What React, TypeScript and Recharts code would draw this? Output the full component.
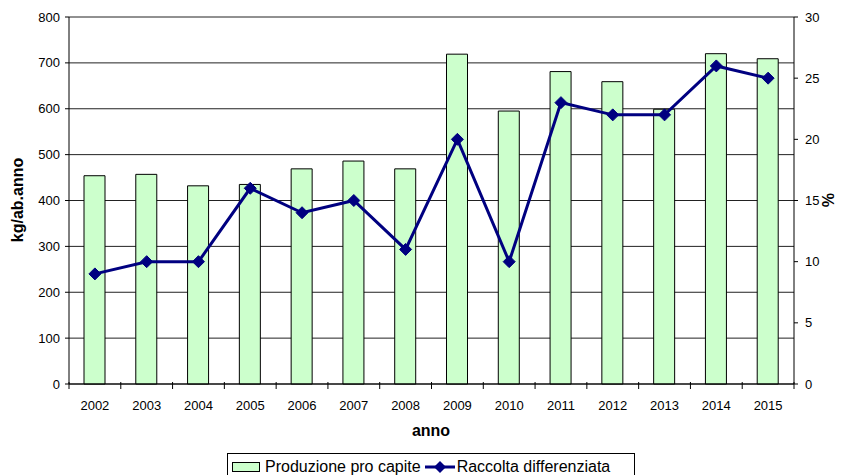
import { ComposedChart, Bar, Line, XAxis, YAxis, CartesianGrid } from 'recharts';

const years = ['2002', '2003', '2004', '2005', '2006', '2007', '2008', '2009', '2010', '2011', '2012', '2013', '2014', '2015'];
const produzione = [454, 457, 432, 435, 469, 486, 469, 719, 595, 681, 659, 599, 720, 709];
const raccolta = [9, 10, 10, 16, 14, 15, 11, 20, 10, 23, 22, 22, 26, 25];
const leftTicks = [0, 100, 200, 300, 400, 500, 600, 700, 800];
const rightTicks = [0, 5, 10, 15, 20, 25, 30];

const data = years.map((anno, i) => ({ anno, produzione: produzione[i], raccolta: raccolta[i] }));

const FONT = '"Liberation Sans", Arial, sans-serif';
const PLOT_LEFT = 69;
const PLOT_RIGHT = 794;
const BAND = (PLOT_RIGHT - PLOT_LEFT) / years.length;

const YearTick = (props: any) => {
  const { x, y, payload, index } = props;
  const half = BAND / 2;
  return (
    <g>
      <line x1={x - half} x2={x - half} y1={y - 4} y2={y + 3} stroke="#000" />
      {index === years.length - 1 && (
        <line x1={x + half} x2={x + half} y1={y - 4} y2={y + 3} stroke="#000" />
      )}
      <text x={x} y={y + 24} textAnchor="middle" fontSize={13} fill="#000" fontFamily={FONT}>
        {payload.value}
      </text>
    </g>
  );
};

const Diamond = (props: any) => {
  const { cx, cy } = props;
  if (cx == null || cy == null) return null;
  const r = 6;
  return (
    <polygon
      points={`${cx},${cy - r} ${cx + r},${cy} ${cx},${cy + r} ${cx - r},${cy}`}
      fill="#000080"
      stroke="#000080"
    />
  );
};

export default function App() {
  return (
    <div style={{ position: 'absolute', left: 0, top: 0, width: 843, height: 475, fontFamily: FONT, background: '#fff', overflow: 'hidden' }}>
      <ComposedChart width={843} height={475} data={data} margin={{ top: 17, right: 0, bottom: 0, left: 0 }}>
        <CartesianGrid yAxisId="left" vertical={false} stroke="#222" />
        <XAxis
          dataKey="anno"
          height={91}
          tickLine={false}
          tickSize={0}
          tick={<YearTick />}
          axisLine={{ stroke: '#000' }}
          interval={0}
        />
        <YAxis
          yAxisId="left"
          width={69}
          domain={[0, 800]}
          ticks={leftTicks}
          tickSize={4}
          tickMargin={5}
          tick={{ fontSize: 13, fill: '#000', fontFamily: FONT }}
          axisLine={{ stroke: '#000' }}
          tickLine={{ stroke: '#000' }}
        />
        <YAxis
          yAxisId="right"
          orientation="right"
          width={49}
          domain={[0, 30]}
          ticks={rightTicks}
          tickSize={4}
          tickMargin={7}
          tick={{ fontSize: 13, fill: '#000', fontFamily: FONT, textAnchor: 'start' }}
          axisLine={{ stroke: '#000' }}
          tickLine={{ stroke: '#000' }}
        />
        <Bar
          yAxisId="left"
          dataKey="produzione"
          name="Produzione pro capite"
          fill="#ccffcc"
          stroke="#000"
          strokeWidth={1}
          barSize={21}
          isAnimationActive={false}
        />
        <Line
          yAxisId="right"
          dataKey="raccolta"
          name="Raccolta differenziata"
          stroke="#000080"
          strokeWidth={3}
          dot={<Diamond />}
          activeDot={false}
          isAnimationActive={false}
        />
      </ComposedChart>

      <div style={{ position: 'absolute', left: 18, top: 200, transform: 'translate(-50%, -50%) rotate(-90deg)', whiteSpace: 'nowrap', fontWeight: 'bold', fontSize: 16, lineHeight: '18px' }}>
        kg/ab.anno
      </div>
      <div style={{ position: 'absolute', left: 827, top: 200, transform: 'translate(-50%, -50%) rotate(90deg)', whiteSpace: 'nowrap', fontWeight: 'bold', fontSize: 16, lineHeight: '18px' }}>
        %
      </div>
      <div style={{ position: 'absolute', left: 431, top: 431, transform: 'translate(-50%, -50%)', fontWeight: 'bold', fontSize: 16, lineHeight: '18px' }}>
        anno
      </div>

      <div
        style={{
          position: 'absolute',
          left: 227,
          top: 453,
          width: 408,
          height: 28,
          border: '1px solid #000',
          boxSizing: 'border-box',
          display: 'flex',
          alignItems: 'center',
          fontSize: 16,
          lineHeight: '18px',
          paddingLeft: 4,
        }}
      >
        <span style={{ display: 'inline-block', width: 28, height: 10, background: '#ccffcc', border: '1px solid #000', boxSizing: 'border-box', marginRight: 5 }} />
        <span>Produzione pro capite</span>
        <svg width={30} height={14} style={{ marginLeft: 4, marginRight: 2 }}>
          <line x1={0} x2={30} y1={7} y2={7} stroke="#000080" strokeWidth={3} />
          <polygon points="15,1 21,7 15,13 9,7" fill="#000080" />
        </svg>
        <span>Raccolta differenziata</span>
      </div>
    </div>
  );
}
